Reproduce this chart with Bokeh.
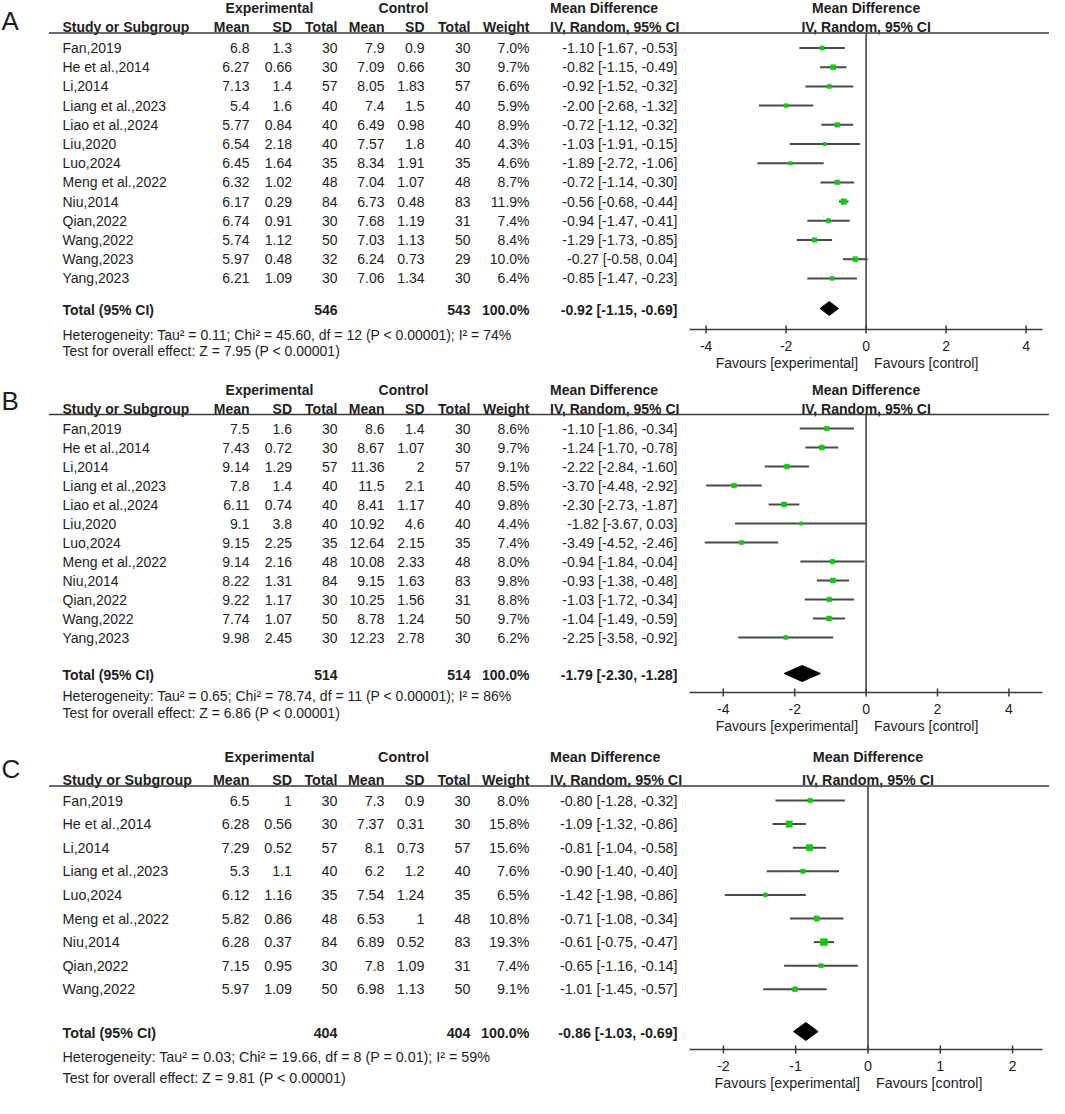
from bokeh.plotting import figure
from bokeh.models import Range1d, ColumnDataSource
from bokeh.embed import file_html
from bokeh.resources import INLINE
from bokeh.core.properties import value

FONT = "Liberation Sans"
TXT = "#1e1e1e"
LINE = "#3a3a3a"
GREEN = "#14c814"

# ---------------- Panel A data ----------------
A_study = ["Fan,2019", "He et al.,2014", "Li,2014", "Liang et al.,2023", "Liao et al.,2024",
           "Liu,2020", "Luo,2024", "Meng et al.,2022", "Niu,2014", "Qian,2022", "Wang,2022",
           "Wang,2023", "Yang,2023"]
A_exp_mean = [6.8, 6.27, 7.13, 5.4, 5.77, 6.54, 6.45, 6.32, 6.17, 6.74, 5.74, 5.97, 6.21]
A_exp_sd = [1.3, 0.66, 1.4, 1.6, 0.84, 2.18, 1.64, 1.02, 0.29, 0.91, 1.12, 0.48, 1.09]
A_exp_n = [30, 30, 57, 40, 40, 40, 35, 48, 84, 30, 50, 32, 30]
A_ctl_mean = [7.9, 7.09, 8.05, 7.4, 6.49, 7.57, 8.34, 7.04, 6.73, 7.68, 7.03, 6.24, 7.06]
A_ctl_sd = [0.9, 0.66, 1.83, 1.5, 0.98, 1.8, 1.91, 1.07, 0.48, 1.19, 1.13, 0.73, 1.34]
A_ctl_n = [30, 30, 57, 40, 40, 40, 35, 48, 83, 31, 50, 29, 30]
A_weight = [7.0, 9.7, 6.6, 5.9, 8.9, 4.3, 4.6, 8.7, 11.9, 7.4, 8.4, 10.0, 6.4]
A_md = [-1.10, -0.82, -0.92, -2.00, -0.72, -1.03, -1.89, -0.72, -0.56, -0.94, -1.29, -0.27, -0.85]
A_lo = [-1.67, -1.15, -1.52, -2.68, -1.12, -1.91, -2.72, -1.14, -0.68, -1.47, -1.73, -0.58, -1.47]
A_hi = [-0.53, -0.49, -0.32, -1.32, -0.32, -0.15, -1.06, -0.30, -0.44, -0.41, -0.85, 0.04, -0.23]
A_total = dict(exp_n=546, ctl_n=543, md=-0.92, lo=-1.15, hi=-0.69)
A_het = "Heterogeneity: Tau\u00b2 = 0.11; Chi\u00b2 = 45.60, df = 12 (P < 0.00001); I\u00b2 = 74%"
A_test = "Test for overall effect: Z = 7.95 (P < 0.00001)"
A_ticks = [-4, -2, 0, 2, 4]

# ---------------- Panel B data ----------------
B_study = ["Fan,2019", "He et al.,2014", "Li,2014", "Liang et al.,2023", "Liao et al.,2024",
           "Liu,2020", "Luo,2024", "Meng et al.,2022", "Niu,2014", "Qian,2022", "Wang,2022",
           "Yang,2023"]
B_exp_mean = [7.5, 7.43, 9.14, 7.8, 6.11, 9.1, 9.15, 9.14, 8.22, 9.22, 7.74, 9.98]
B_exp_sd = [1.6, 0.72, 1.29, 1.4, 0.74, 3.8, 2.25, 2.16, 1.31, 1.17, 1.07, 2.45]
B_exp_n = [30, 30, 57, 40, 40, 40, 35, 48, 84, 30, 50, 30]
B_ctl_mean = [8.6, 8.67, 11.36, 11.5, 8.41, 10.92, 12.64, 10.08, 9.15, 10.25, 8.78, 12.23]
B_ctl_sd = [1.4, 1.07, 2, 2.1, 1.17, 4.6, 2.15, 2.33, 1.63, 1.56, 1.24, 2.78]
B_ctl_n = [30, 30, 57, 40, 40, 40, 35, 48, 83, 31, 50, 30]
B_weight = [8.6, 9.7, 9.1, 8.5, 9.8, 4.4, 7.4, 8.0, 9.8, 8.8, 9.7, 6.2]
B_md = [-1.10, -1.24, -2.22, -3.70, -2.30, -1.82, -3.49, -0.94, -0.93, -1.03, -1.04, -2.25]
B_lo = [-1.86, -1.70, -2.84, -4.48, -2.73, -3.67, -4.52, -1.84, -1.38, -1.72, -1.49, -3.58]
B_hi = [-0.34, -0.78, -1.60, -2.92, -1.87, 0.03, -2.46, -0.04, -0.48, -0.34, -0.59, -0.92]
B_total = dict(exp_n=514, ctl_n=514, md=-1.79, lo=-2.30, hi=-1.28)
B_het = "Heterogeneity: Tau\u00b2 = 0.65; Chi\u00b2 = 78.74, df = 11 (P < 0.00001); I\u00b2 = 86%"
B_test = "Test for overall effect: Z = 6.86 (P < 0.00001)"
B_ticks = [-4, -2, 0, 2, 4]

# ---------------- Panel C data ----------------
C_study = ["Fan,2019", "He et al.,2014", "Li,2014", "Liang et al.,2023", "Luo,2024",
           "Meng et al.,2022", "Niu,2014", "Qian,2022", "Wang,2022"]
C_exp_mean = [6.5, 6.28, 7.29, 5.3, 6.12, 5.82, 6.28, 7.15, 5.97]
C_exp_sd = [1, 0.56, 0.52, 1.1, 1.16, 0.86, 0.37, 0.95, 1.09]
C_exp_n = [30, 30, 57, 40, 35, 48, 84, 30, 50]
C_ctl_mean = [7.3, 7.37, 8.1, 6.2, 7.54, 6.53, 6.89, 7.8, 6.98]
C_ctl_sd = [0.9, 0.31, 0.73, 1.2, 1.24, 1, 0.52, 1.09, 1.13]
C_ctl_n = [30, 30, 57, 40, 35, 48, 83, 31, 50]
C_weight = [8.0, 15.8, 15.6, 7.6, 6.5, 10.8, 19.3, 7.4, 9.1]
C_md = [-0.80, -1.09, -0.81, -0.90, -1.42, -0.71, -0.61, -0.65, -1.01]
C_lo = [-1.28, -1.32, -1.04, -1.40, -1.98, -1.08, -0.75, -1.16, -1.45]
C_hi = [-0.32, -0.86, -0.58, -0.40, -0.86, -0.34, -0.47, -0.14, -0.57]
C_total = dict(exp_n=404, ctl_n=404, md=-0.86, lo=-1.03, hi=-0.69)
C_het = "Heterogeneity: Tau\u00b2 = 0.03; Chi\u00b2 = 19.66, df = 8 (P = 0.01); I\u00b2 = 59%"
C_test = "Test for overall effect: Z = 9.81 (P < 0.00001)"
C_ticks = [-2, -1, 0, 1, 2]

# ---------------- layout (reference pixel space) ----------------
X0, X1, Y0, Y1 = 8, 1057, 8, 1106
p = figure(width=X1 - X0, height=Y1 - Y0, x_range=Range1d(X0, X1), y_range=Range1d(Y1, Y0),
           x_axis_type=None, y_axis_type=None, output_backend="svg", toolbar_location=None,
           min_border=0)
p.grid.visible = False
p.outline_line_color = None
p.background_fill_color = "white"

COLS = [257, 299.5, 345, 392, 432, 478, 537]
CI_RIGHT = 685
MD_LEFT = 557.5
STUDY_X = 70
EXP_C, CTL_C = 277, 411
AX_L, AX_R = 697, 1050

panels = [
    dict(label="A", study=A_study, em=A_exp_mean, es=A_exp_sd, en=A_exp_n, cm=A_ctl_mean,
         cs=A_ctl_sd, cn=A_ctl_n, w=A_weight, md=A_md, lo=A_lo, hi=A_hi, tot=A_total,
         het=A_het, test=A_test, ticks=A_ticks, lab_y=28,
         top=15.5, hdr=34, line=40.5, row0=55.5, dy=19.2, tot_y=317, dia_h=7, het_y=342, test_y=358,
         axis_y=337, zero=873.6, scale=40.0, fs=14),
    dict(label="B", study=B_study, em=B_exp_mean, es=B_exp_sd, en=B_exp_n, cm=B_ctl_mean,
         cs=B_ctl_sd, cn=B_ctl_n, w=B_weight, md=B_md, lo=B_lo, hi=B_hi, tot=B_total,
         het=B_het, test=B_test, ticks=B_ticks, lab_y=408,
         top=397, hdr=416, line=422, row0=436, dy=19.0, tot_y=682, dia_h=8, het_y=703, test_y=720,
         axis_y=700, zero=873.6, scale=35.7, fs=14),
    dict(label="C", study=C_study, em=C_exp_mean, es=C_exp_sd, en=C_exp_n, cm=C_ctl_mean,
         cs=C_ctl_sd, cn=C_ctl_n, w=C_weight, md=C_md, lo=C_lo, hi=C_hi, tot=C_total,
         het=C_het, test=C_test, ticks=C_ticks, lab_y=776,
         top=764, hdr=787, line=793.5, row0=808, dy=23.6, tot_y=1040, dia_h=9, het_y=1064, test_y=1085,
         axis_y=1057, zero=875.5, scale=72.3, fs=14.3),
]


def txt(x, y, s, size, align="left", bold=False, rng="default", baseline="middle"):
    p.text(x=[x], y=[y], text=[s], text_font=value(FONT), text_font_size=f"{size}px",
           text_align=align, text_baseline=baseline, text_color=TXT,
           text_font_style="bold" if bold else "normal", x_range_name=rng)


for P in panels:
    fs = P["fs"]
    rng = "md" + P["label"]
    Z, S = P["zero"], P["scale"]
    p.extra_x_ranges[rng] = Range1d((X0 - Z) / S, (X1 - Z) / S)
    ax_lo, ax_hi = (AX_L - Z) / S, (AX_R - Z) / S

    # panel letter
    txt(9, P["lab_y"], P["label"], 26, baseline="alphabetic")

    # group headers
    txt(EXP_C, P["top"], "Experimental", fs, "center", True)
    txt(CTL_C, P["top"], "Control", fs, "center", True)
    txt(MD_LEFT, P["top"], "Mean Difference", fs, "left", True)
    txt(0, P["top"], "Mean Difference", fs, "center", True, rng)

    # column headers
    txt(STUDY_X, P["hdr"], "Study or Subgroup", fs, "left", True)
    for x, h in zip(COLS, ["Mean", "SD", "Total", "Mean", "SD", "Total", "Weight"]):
        txt(x, P["hdr"], h, fs, "right", True)
    txt(MD_LEFT, P["hdr"], "IV, Random, 95% CI", fs, "left", True)
    txt(0, P["hdr"], "IV, Random, 95% CI", fs, "center", True, rng)
    p.segment(x0=[56.5], x1=[X1], y0=[P["line"]], y1=[P["line"]], line_color=LINE, line_width=1.6)

    n = len(P["study"])
    ys = [P["row0"] + i * P["dy"] for i in range(n)]
    src = ColumnDataSource(dict(
        y=ys, study=P["study"],
        em=[str(v) for v in P["em"]], es=[str(v) for v in P["es"]], en=[str(v) for v in P["en"]],
        cm=[str(v) for v in P["cm"]], cs=[str(v) for v in P["cs"]], cn=[str(v) for v in P["cn"]],
        wt=[f"{v:.1f}%" for v in P["w"]],
        ci=[f"{m:.2f} [{l:.2f}, {h:.2f}]" for m, l, h in zip(P["md"], P["lo"], P["hi"])],
        md=P["md"], lo=P["lo"], hi=P["hi"],
        sz=[1.6 * (v ** 0.5) for v in P["w"]],
    ))
    common = dict(source=src, text_font=value(FONT), text_font_size=f"{fs}px",
                  text_baseline="middle", text_color=TXT)
    p.text(x=STUDY_X, y="y", text="study", text_align="left", **common)
    for x, c in zip(COLS, ["em", "es", "en", "cm", "cs", "cn", "wt"]):
        p.text(x=x, y="y", text=c, text_align="right", **common)
    p.text(x=CI_RIGHT, y="y", text="ci", text_align="right", **common)

    # forest: zero line, CIs, squares
    p.segment(x0=[0], x1=[0], y0=[P["line"]], y1=[P["axis_y"]], line_color=LINE, line_width=1.5,
              x_range_name=rng)
    p.segment(x0="lo", x1="hi", y0="y", y1="y", source=src, line_color="#4a4a4a", line_width=2,
              x_range_name=rng)
    p.scatter(x="md", y="y", size="sz", marker="square", source=src, fill_color=GREEN,
              line_color=GREEN, line_width=0.5, x_range_name=rng)

    # totals
    T = P["tot"]
    ty = P["tot_y"]
    txt(STUDY_X, ty, "Total (95% CI)", fs, "left", True)
    txt(COLS[2], ty, str(T["exp_n"]), fs, "right", True)
    txt(COLS[5], ty, str(T["ctl_n"]), fs, "right", True)
    txt(COLS[6], ty, "100.0%", fs, "right", True)
    txt(CI_RIGHT, ty, f"{T['md']:.2f} [{T['lo']:.2f}, {T['hi']:.2f}]", fs, "right", True)
    h = P["dia_h"]
    dy_ = ty - 1
    p.patch(x=[T["lo"], T["md"], T["hi"], T["md"]], y=[dy_, dy_ - h, dy_, dy_ + h],
            fill_color="black", line_color="black", line_width=1, x_range_name=rng)

    txt(STUDY_X, P["het_y"], P["het"], fs)
    txt(STUDY_X, P["test_y"], P["test"], fs)

    # axis
    ay = P["axis_y"]
    p.segment(x0=[ax_lo], x1=[ax_hi], y0=[ay], y1=[ay], line_color=LINE, line_width=1.5,
              x_range_name=rng)
    tk = P["ticks"]
    p.segment(x0=tk, x1=tk, y0=[ay - 4] * len(tk), y1=[ay + 4] * len(tk), line_color=LINE,
              line_width=1.5, x_range_name=rng)
    for t in tk:
        txt(t, ay + 16, str(t), fs, "center", False, rng)
    txt(-8 / S, ay + 33, "Favours [experimental]", fs, "right", False, rng)
    txt(8 / S, ay + 33, "Favours [control]", fs, "left", False, rng)

open("out.html", "w").write(file_html(p, INLINE))
